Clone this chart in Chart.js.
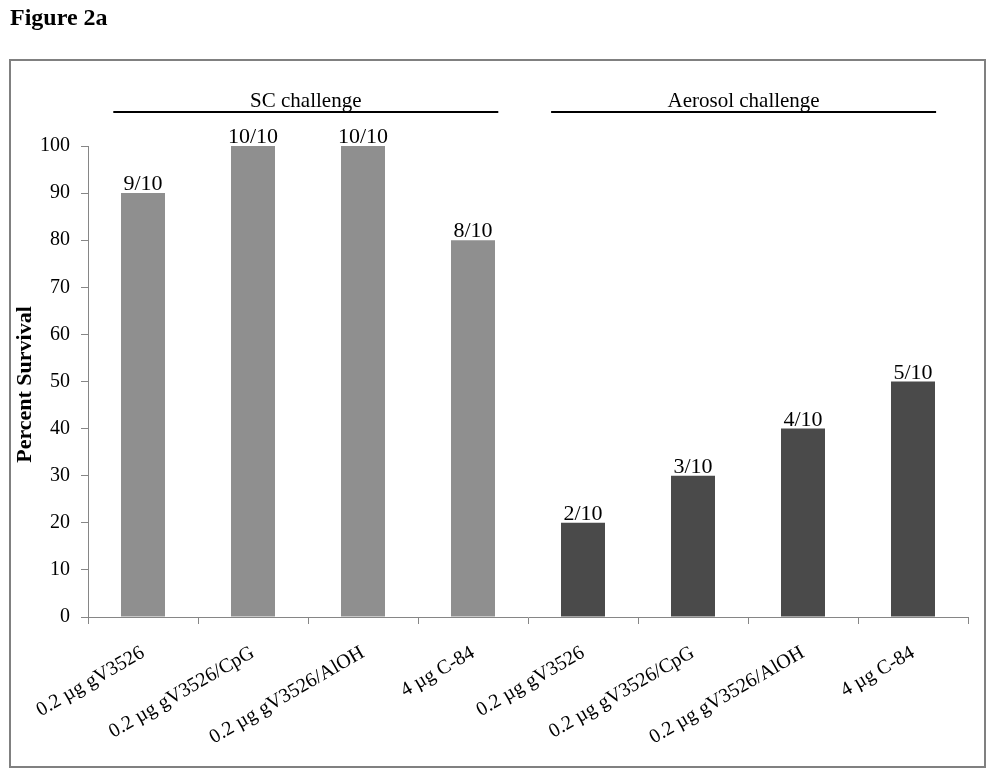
<!DOCTYPE html>
<html>
<head>
<meta charset="utf-8">
<script src="https://cdn.jsdelivr.net/npm/chart.js@4/dist/chart.umd.min.js"></script>
<style>
  html, body { margin: 0; padding: 0; background: #fff; }
  #wrap { width: 994px; height: 778px; }
</style>
</head>
<body>
<div id="wrap"><canvas id="fig"></canvas></div>
<script>
// Figure 2a: percent survival after SC vs aerosol challenge
const categories = [
  "0.2 µg gV3526", "0.2 µg gV3526/CpG", "0.2 µg gV3526/AlOH", "4 µg C-84",
  "0.2 µg gV3526", "0.2 µg gV3526/CpG", "0.2 µg gV3526/AlOH", "4 µg C-84",
];
const scSurvival = [90, 100, 100, 80];
const aerosolSurvival = [20, 30, 40, 50];
const scCounts = ["9/10", "10/10", "10/10", "8/10"];
const aerosolCounts = ["2/10", "3/10", "4/10", "5/10"];
const yTicks = [0, 10, 20, 30, 40, 50, 60, 70, 80, 90, 100];

// group headers span fractional category positions
const groups = [
  { label: "SC challenge", from: -0.27, to: 3.23 },
  { label: "Aerosol challenge", from: 3.71, to: 7.21 },
];

const SERIF = '"Liberation Serif", "Times New Roman", serif';
const AXIS_GREY = "#868686";
const LIGHT = "#8f8f8f";
const DARK = "#4a4a4a";

const values = scSurvival.concat(aerosolSurvival);
const counts = scCounts.concat(aerosolCounts);
const colors = scSurvival.map(() => LIGHT).concat(aerosolSurvival.map(() => DARK));

const decor = {
  id: "decor",
  beforeDraw(chart) {
    const ctx = chart.ctx;
    ctx.save();
    ctx.fillStyle = "#fff";
    ctx.fillRect(0, 0, chart.width, chart.height);
    // outer frame
    ctx.strokeStyle = "#808080";
    ctx.lineWidth = 2;
    ctx.strokeRect(10, 60, 975, 707);
    // figure label
    ctx.fillStyle = "#000";
    ctx.font = "bold 24px " + SERIF;
    ctx.textAlign = "left";
    ctx.textBaseline = "alphabetic";
    ctx.fillText("Figure 2a", 10, 25);
    ctx.restore();
  },
  afterDatasetsDraw(chart) {
    const ctx = chart.ctx;
    const x = chart.scales.x, y = chart.scales.y;
    const meta = chart.getDatasetMeta(0);
    ctx.save();
    ctx.fillStyle = "#000";
    ctx.font = "22px " + SERIF;
    ctx.textAlign = "center";
    ctx.textBaseline = "alphabetic";
    meta.data.forEach((bar, i) => {
      ctx.fillText(counts[i], bar.x, bar.y - 3);
    });

    // group headers
    const top = chart.chartArea.top;
    ctx.font = "21px " + SERIF;
    ctx.strokeStyle = "#000";
    ctx.lineWidth = 2;
    groups.forEach(g => {
      const x0 = x.getPixelForValue(g.from), x1 = x.getPixelForValue(g.to);
      ctx.beginPath();
      ctx.moveTo(x0, top - 34);
      ctx.lineTo(x1, top - 34);
      ctx.stroke();
      ctx.fillText(g.label, (x0 + x1) / 2, top - 39);
    });

    // y title
    ctx.font = "bold 22px " + SERIF;
    ctx.translate(25, (y.top + y.bottom) / 2 + 3);
    ctx.rotate(-Math.PI / 2);
    ctx.textBaseline = "middle";
    ctx.fillText("Percent Survival", 0, 0);
    ctx.restore();
  },
};

new Chart(document.getElementById("fig"), {
  type: "bar",
  data: {
    labels: categories,
    datasets: [{
      data: values,
      backgroundColor: colors,
      barPercentage: 0.4,
      categoryPercentage: 1,
    }],
  },
  options: {
    responsive: true,
    maintainAspectRatio: false,
    animation: false,
    layout: { padding: { top: 146, right: 26, left: 0, bottom: 0 } },
    plugins: { legend: { display: false }, tooltip: { enabled: false } },
    scales: {
      x: {
        afterFit(s) { s.height = 161; },
        grid: { drawOnChartArea: false, drawTicks: true, tickLength: 7, color: AXIS_GREY },
        border: { color: AXIS_GREY },
        ticks: {
          color: "#000",
          font: { family: SERIF, size: 20 },
          minRotation: 30,
          maxRotation: 30,
          autoSkip: false,
          padding: 17,
        },
      },
      y: {
        min: 0,
        max: 100,
        afterFit(s) { s.width = 88; },
        afterBuildTicks(s) { s.ticks = yTicks.map(v => ({ value: v })); },
        grid: { drawOnChartArea: false, drawTicks: true, tickLength: 7, color: AXIS_GREY },
        border: { color: AXIS_GREY },
        ticks: {
          color: "#000",
          font: { family: SERIF, size: 20 },
          padding: 11,
        },
      },
    },
  },
  plugins: [decor],
});
</script>
</body>
</html>
